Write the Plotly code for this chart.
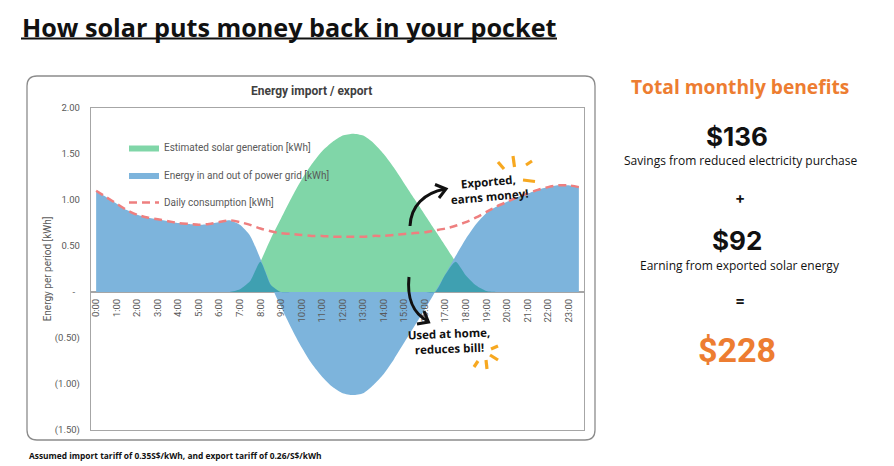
import plotly.graph_objects as go

# ---------------- data ----------------
hours = [0.0, 0.5, 1.0, 1.5, 2.0, 2.5, 3.0, 3.5, 4.0, 4.5, 5.0, 5.5,
         6.0, 6.5, 7.0, 7.5, 8.0, 8.5, 9.0, 9.5, 10.0, 10.5, 11.0, 11.5,
         12.0, 12.5, 13.0, 13.5, 14.0, 14.5, 15.0, 15.5, 16.0, 16.5, 17.0, 17.5,
         18.0, 18.5, 19.0, 19.5, 20.0, 20.5, 21.0, 21.5, 22.0, 22.5, 23.0, 23.5]

solar_generation = [0, 0, 0, 0, 0, 0, 0, 0, 0, 0, 0, 0,
                    0, 0.00, 0.03, 0.12, 0.33, 0.58, 0.80, 1.02, 1.22, 1.39, 1.53, 1.63,
                    1.70, 1.72, 1.70, 1.62, 1.50, 1.35, 1.18, 1.01, 0.84, 0.67, 0.50, 0.33,
                    0.18, 0.07, 0.01, 0, 0, 0, 0, 0, 0, 0, 0, 0]

grid_energy = [1.10, 1.03, 0.96, 0.89, 0.84, 0.81, 0.79, 0.77, 0.75, 0.74, 0.73, 0.74,
               0.76, 0.78, 0.73, 0.61, 0.36, 0.08, -0.16, -0.39, -0.60, -0.78, -0.92, -1.03,
               -1.10, -1.12, -1.10, -1.01, -0.89, -0.73, -0.55, -0.37, -0.19, 0.00, 0.19, 0.39,
               0.58, 0.74, 0.86, 0.93, 0.98, 1.03, 1.07, 1.11, 1.14, 1.16, 1.16, 1.14]

daily_consumption = [1.10, 1.03, 0.96, 0.89, 0.84, 0.81, 0.79, 0.77, 0.75, 0.74, 0.73, 0.74,
                     0.76, 0.78, 0.76, 0.73, 0.69, 0.66, 0.64, 0.63, 0.62, 0.61, 0.61, 0.60,
                     0.60, 0.60, 0.60, 0.61, 0.61, 0.62, 0.63, 0.64, 0.65, 0.67, 0.69, 0.72,
                     0.76, 0.81, 0.87, 0.93, 0.98, 1.03, 1.07, 1.11, 1.14, 1.16, 1.16, 1.14]

hour_ticks = [0, 1, 2, 3, 4, 5, 6, 7, 8, 9, 10, 11, 12, 13, 14, 15, 16, 17, 18, 19, 20, 21, 22, 23]
hour_labels = ["0:00", "1:00", "2:00", "3:00", "4:00", "5:00", "6:00", "7:00", "8:00", "9:00",
               "10:00", "11:00", "12:00", "13:00", "14:00", "15:00", "16:00", "17:00", "18:00",
               "19:00", "20:00", "21:00", "22:00", "23:00"]

y_ticks = [2.0, 1.5, 1.0, 0.5, 0.0, -0.5, -1.0, -1.5]
y_labels = ["2.00", "1.50", "1.00", "0.50", "-\u00a0\u00a0", "(0.50)", "(1.00)", "(1.50)"]

savings = "$136"
earnings = "$92"
total = "$228"

# overlap of solar area and import area (drawn darker, as in the original)
overlap = [min(s, max(g, 0)) for s, g in zip(solar_generation, grid_energy)]

# ---------------- geometry helpers ----------------
W, H = 894, 466
L, R, T, B = 91, 584, 108, 430


def px(x):
    return (x - L) / (R - L)


def py(y):
    return (B - y) / (B - T)


GREEN = "#80d6a8"
BLUE = "#7db4dc"
TEAL = "#3fa0b1"
RED = "#ee7f7f"
GREY_TXT = "#595959"
AXIS = "#a6a6a6"
ORANGE = "#ed7d31"
SPARK = "#f7a820"

fig = go.Figure()

fig.add_trace(go.Scatter(
    x=hours, y=solar_generation, name="Estimated solar generation [kWh]",
    mode="lines", line=dict(width=0, color=GREEN, shape="spline", smoothing=0.6),
    fill="tozeroy", fillcolor=GREEN, legendgroup="a", hoverinfo="skip"))

fig.add_trace(go.Scatter(
    x=hours, y=grid_energy, name="Energy in and out of power grid [kWh]",
    mode="lines", line=dict(width=0, color=BLUE, shape="spline", smoothing=0.6),
    fill="tozeroy", fillcolor=BLUE, legendgroup="b", hoverinfo="skip"))

fig.add_trace(go.Scatter(
    x=hours, y=overlap, showlegend=False, legendgroup="b",
    mode="lines", line=dict(width=0, color=TEAL, shape="spline", smoothing=0.6),
    fill="tozeroy", fillcolor=TEAL, hoverinfo="skip"))

fig.add_trace(go.Scatter(
    x=hours, y=daily_consumption, name="Daily consumption [kWh]",
    mode="lines", line=dict(width=2.5, color=RED, dash="8px,5px", shape="spline", smoothing=0.6),
    legendgroup="c", hoverinfo="skip"))

# invisible trace carrying the hour-label axis
fig.add_trace(go.Scatter(
    x=[hours[0]], y=[0], xaxis="x2", mode="markers", marker=dict(opacity=0),
    showlegend=False, legendgroup="c", hoverinfo="skip"))

shapes = []
# rounded chart frame
x0, x1, y0, y1, r = 27, 595, 76, 440, 10
path = (f"M {px(x0 + r)},{py(y0)} L {px(x1 - r)},{py(y0)} "
        f"Q {px(x1)},{py(y0)} {px(x1)},{py(y0 + r)} L {px(x1)},{py(y1 - r)} "
        f"Q {px(x1)},{py(y1)} {px(x1 - r)},{py(y1)} L {px(x0 + r)},{py(y1)} "
        f"Q {px(x0)},{py(y1)} {px(x0)},{py(y1 - r)} L {px(x0)},{py(y0 + r)} "
        f"Q {px(x0)},{py(y0)} {px(x0 + r)},{py(y0)} Z")
shapes.append(dict(type="path", xref="paper", yref="paper", path=path,
                   line=dict(color="#8c8c8c", width=1.3), layer="below"))

# title underline
shapes.append(dict(type="line", xref="paper", yref="paper",
                   x0=px(21), x1=px(557), y0=py(38.5), y1=py(38.5),
                   line=dict(color="#111111", width=2.2)))


def curve(pts, width=3, color="#111111"):
    (a, b), (c, d), (e, f), (g, h) = pts
    p = f"M {px(a)},{py(b)} C {px(c)},{py(d)} {px(e)},{py(f)} {px(g)},{py(h)}"
    return dict(type="path", xref="paper", yref="paper", path=p,
                line=dict(color=color, width=width))


def polyline(pts, width=3, color="#111111"):
    p = "M " + " L ".join(f"{px(a)},{py(b)}" for a, b in pts)
    return dict(type="path", xref="paper", yref="paper", path=p,
                line=dict(color=color, width=width))


# arrow up (exported)
shapes.append(curve([(410, 226), (411, 206), (424, 193), (445, 189)]))
shapes.append(polyline([(435, 184.5), (446, 189), (439, 198)]))
# arrow down (used at home)
shapes.append(curve([(409, 277), (407, 296), (412, 313), (428, 321)]))
shapes.append(polyline([(424, 311), (428.5, 322), (417, 324)]))

# sparkle strokes
for a, b, c, d in [(498, 162, 504, 169), (513, 156, 514.5, 167), (526, 165, 532, 161),
                   (523, 180, 535, 181.5),
                   (491, 349, 498, 346), (490, 355, 498, 360), (486, 360, 487, 369),
                   (478, 361, 474, 367)]:
    shapes.append(dict(type="line", xref="paper", yref="paper",
                       x0=px(a), y0=py(b), x1=px(c), y1=py(d),
                       line=dict(color=SPARK, width=3.2)))

annotations = []


def text(x, y, s, size, color="#111111", family="Open Sans", anchor="center", angle=0):
    annotations.append(dict(x=px(x), y=py(y), xref="paper", yref="paper", text=s,
                            showarrow=False, xanchor=anchor, yanchor="middle",
                            textangle=angle, align="center",
                            font=dict(size=size, color=color, family=family)))


text(20, 27, "<b>How solar puts money back in your pocket</b>", 25.2, anchor="left")
text(311, 91, "<b>Energy import / export</b>", 12, color="#404040", family="Roboto")
text(489, 189, "<b>Exported,<br>earns money!</b>", 11.5, angle=-5)
text(449, 341, "<b>Used at home,<br>reduces bill!</b>", 11.5, angle=-2)

text(740, 86, "<b>Total monthly benefits</b>", 19.2, color=ORANGE)
text(737, 136, f"<b>{savings}</b>", 26, family="Inter")
text(740, 160, "Savings from reduced electricity purchase", 12)
text(740, 197, "<b>+</b>", 15, family="Inter")
text(737, 240, f"<b>{earnings}</b>", 26, family="Inter")
text(740, 265, "Earning from exported solar energy", 12)
text(740, 300, "<b>=</b>", 15, family="Inter")
text(737, 350, f"<b>{total}</b>", 34, color=ORANGE, family="Roboto")
text(27, 455, "<b>Assumed import tariff of 0.35S$/kWh, and export tariff of 0.26/S$/kWh</b>",
     8.4, anchor="left")

fig.update_layout(
    width=W, height=H, autosize=False,
    margin=dict(l=L, r=W - R, t=T, b=H - B, pad=0),
    paper_bgcolor="white", plot_bgcolor="white",
    font=dict(family="Roboto", color=GREY_TXT, size=10),
    showlegend=True,
    legend=dict(x=px(124), y=py(133), xanchor="left", yanchor="top",
                bgcolor="rgba(0,0,0,0)", font=dict(size=10, color=GREY_TXT, family="Roboto"),
                traceorder="grouped", tracegroupgap=8.5),
    xaxis=dict(range=[-0.25, 23.75], showgrid=False, zeroline=False,
               showline=True, mirror=True, linecolor=AXIS, linewidth=1.3,
               showticklabels=False, ticks=""),
    xaxis2=dict(range=[-0.25, 23.75], overlaying="x", anchor="free", side="bottom",
                position=py(292), showgrid=False, zeroline=False, showline=False,
                tickmode="array", tickvals=hour_ticks, ticktext=hour_labels,
                tickangle=-90, ticks="outside", ticklen=2, tickcolor="rgba(0,0,0,0)",
                tickfont=dict(size=9.5, color=GREY_TXT, family="Roboto")),
    yaxis=dict(range=[-1.5, 2.0], showgrid=False, zeroline=True, zerolinecolor=AXIS,
               zerolinewidth=1.5, showline=True, mirror=True, linecolor=AXIS, linewidth=1.3,
               tickmode="array", tickvals=y_ticks, ticktext=y_labels,
               ticks="outside", ticklen=8, tickcolor="rgba(0,0,0,0)",
               tickfont=dict(size=9.5, color=GREY_TXT, family="Roboto"),
               title=dict(text="Energy per period [kWh]", standoff=1,
                          font=dict(size=10, color=GREY_TXT, family="Roboto"))),
    shapes=shapes, annotations=annotations,
)

fig.write_html("out.html")
